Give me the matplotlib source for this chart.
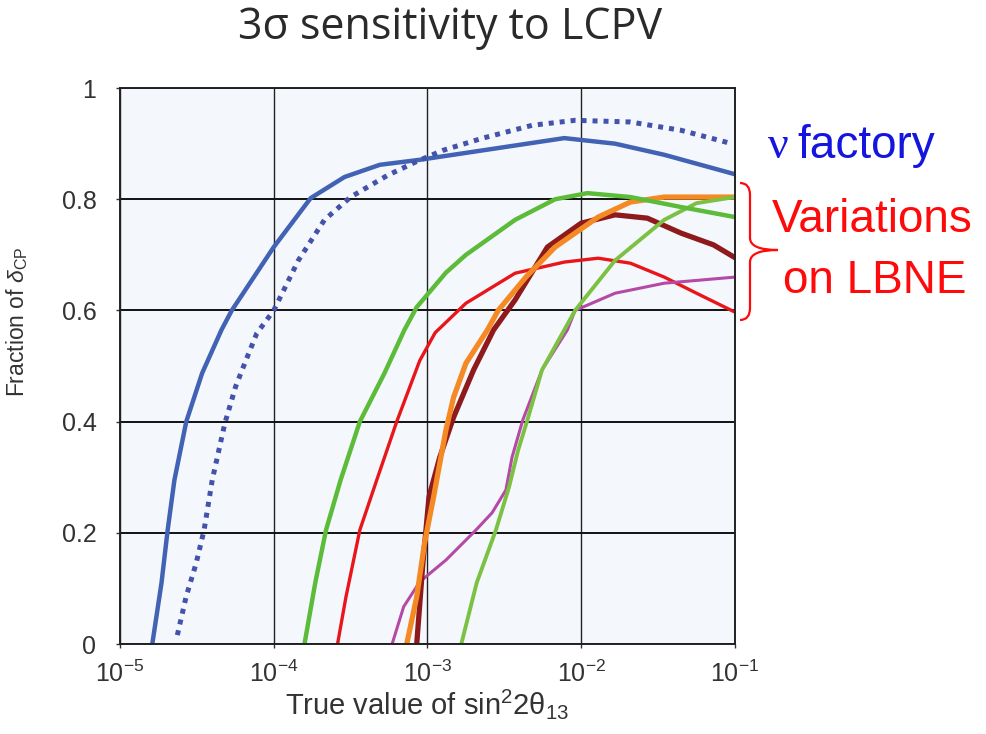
import numpy as np
import matplotlib
matplotlib.use("Agg")
import matplotlib.pyplot as plt
from matplotlib.path import Path
from matplotlib.patches import PathPatch

plt.rcParams['font.family'] = ['Liberation Sans', 'DejaVu Sans']
plt.rcParams['mathtext.fontset'] = 'custom'
plt.rcParams['mathtext.rm'] = 'Liberation Sans'
plt.rcParams['mathtext.it'] = 'Liberation Sans:italic'

# curves: x as log10(sin^2 2theta13), y = fraction of delta_CP
nufact_logx = [-4.79, -4.73, -4.69, -4.646, -4.569, -4.466, -4.34, -4.273, -4.0,
               -3.76, -3.54, -3.31, -3.05, -2.64, -2.11, -1.78, -1.46, -1.0]
nufact_y = [0, 0.11, 0.205, 0.295, 0.40, 0.487, 0.565, 0.60, 0.714,
            0.802, 0.84, 0.862, 0.871, 0.888, 0.91, 0.90, 0.88, 0.845]

nufact2_logx = [-4.627, -4.57, -4.505, -4.453, -4.40, -4.318, -4.248, -4.18, -4.11,
                -4.0, -3.84, -3.67, -3.50, -3.26, -3.07, -2.90, -2.64, -2.32,
                -2.04, -1.68, -1.35, -1.02]
nufact2_y = [0.016, 0.085, 0.145, 0.205, 0.295, 0.397, 0.463, 0.511, 0.559,
             0.60, 0.69, 0.763, 0.804, 0.843, 0.868, 0.888, 0.91, 0.933,
             0.942, 0.939, 0.924, 0.90]

green1_logx = [-3.80, -3.73, -3.66, -3.565, -3.44, -3.28, -3.15, -3.07, -2.88,
               -2.75, -2.43, -2.17, -1.96, -1.68, -1.35, -1.0]
green1_y = [0, 0.11, 0.205, 0.295, 0.40, 0.487, 0.565, 0.606, 0.668,
            0.70, 0.763, 0.80, 0.811, 0.804, 0.786, 0.768]

red_logx = [-3.585, -3.53, -3.44, -3.33, -3.20, -3.05, -2.95, -2.75, -2.43,
            -2.11, -1.89, -1.68, -1.46, -1.25, -1.0]
red_y = [0, 0.085, 0.205, 0.295, 0.40, 0.51, 0.56, 0.613, 0.667,
         0.687, 0.694, 0.685, 0.66, 0.631, 0.597]

orange_logx = [-3.135, -3.07, -3.02, -2.96, -2.88, -2.83, -2.75, -2.61, -2.54,
               -2.36, -2.17, -1.89, -1.68, -1.46, -1.0]
orange_y = [0, 0.085, 0.18, 0.265, 0.385, 0.444, 0.505, 0.565, 0.60,
            0.66, 0.714, 0.768, 0.795, 0.804, 0.804]

brown_logx = [-3.07, -3.03, -2.99, -2.92, -2.83, -2.70, -2.57, -2.43, -2.22,
              -2.0, -1.78, -1.57, -1.35, -1.14, -1.0]
brown_y = [0, 0.145, 0.265, 0.336, 0.408, 0.493, 0.565, 0.619, 0.714,
           0.757, 0.772, 0.766, 0.739, 0.718, 0.695]

green2_logx = [-2.78, -2.68, -2.555, -2.47, -2.41, -2.35, -2.255, -2.11, -2.04,
               -1.78, -1.46, -1.25, -1.0]
green2_y = [0, 0.11, 0.205, 0.282, 0.349, 0.403, 0.493, 0.565, 0.60,
            0.69, 0.763, 0.793, 0.804]

magenta_logx = [-3.23, -3.155, -3.05, -2.88, -2.685, -2.58, -2.49, -2.45, -2.38,
                -2.255, -2.09, -2.04, -1.78, -1.46, -1.0]
magenta_y = [0, 0.067, 0.112, 0.151, 0.205, 0.236, 0.277, 0.336, 0.403,
             0.493, 0.565, 0.60, 0.631, 0.649, 0.66]

yticks = [0, 0.2, 0.4, 0.6, 0.8, 1]
ytick_labels = ['0', '0.2', '0.4', '0.6', '0.8', '1']

fig = plt.figure(figsize=(9.86, 7.34), dpi=100)
ax = fig.add_axes([0.1217, 0.1226, 0.6237, 0.7574])
ax.set_facecolor('#f4f8fd')

def to_x(logx):
    return 10 ** np.array(logx)

ax.plot(to_x(nufact_logx), nufact_y, color='#4262b3', lw=3.2, solid_capstyle='butt')
ax.plot(to_x(nufact2_logx), nufact2_y, color='#4452aa', lw=3.6,
        linestyle=(0, (1.0, 1.2)), dash_capstyle='butt')
ax.plot(to_x(red_logx), red_y, color='#e8161b', lw=2.4)
ax.plot(to_x(magenta_logx), magenta_y, color='#b44aa6', lw=2.2)
ax.plot(to_x(brown_logx), brown_y, color='#8e1a1c', lw=3.8)
ax.plot(to_x(orange_logx), orange_y, color='#f58a24', lw=3.8)
ax.plot(to_x(green2_logx), green2_y, color='#7cc142', lw=2.8)
ax.plot(to_x(green1_logx), green1_y, color='#5dbb3a', lw=3.2)

ax.set_xscale('log')
ax.set_xlim(1e-5, 1e-1)
ax.set_ylim(0, 1)
ax.set_yticks(yticks)
ax.set_yticklabels(ytick_labels)
ax.set_xticks([1e-5, 1e-4, 1e-3, 1e-2, 1e-1])
ax.minorticks_off()

ax.grid(which='major', axis='x', color='#222222', lw=1.0)
ax.grid(which='major', axis='y', color='#111111', lw=1.4)
ax.set_axisbelow(True)
for s in ax.spines.values():
    s.set_color('#222222')
    s.set_linewidth(1.4)

ax.tick_params(axis='both', labelsize=18, colors='#333333', length=3, width=1, pad=9)
ax.tick_params(axis='y', pad=14)

ax.set_xlabel('True value of sin$^2$2θ$_{13}$', fontsize=21, color='#333333', labelpad=0)
ax.set_ylabel('Fraction of $\\delta_{\\rm CP}$', fontsize=16.5, color='#333333')
ax.yaxis.set_label_coords(-0.146, 0.58)

fig.text(0.456, 0.962, '3σ sensitivity to LCPV', fontsize=31, color='#2a2a2a',
         family=['Open Sans', 'DejaVu Sans'], ha='center', va='center')

fig.text(768 / 986, 1 - 158 / 734, 'ν', fontsize=33, color='#1515e0',
         family=['Liberation Serif', 'DejaVu Serif'], ha='left', va='baseline')
fig.text(797 / 986, 1 - 158 / 734, 'factory', fontsize=33, color='#1515e0',
         ha='left', va='baseline')
fig.text(772 / 986, 1 - 232 / 734, 'Variations', fontsize=33, color='#ff0a0a',
         ha='left', va='baseline')
fig.text(783 / 986, 1 - 293 / 734, 'on LBNE', fontsize=33, color='#ff0a0a',
         ha='left', va='baseline')

# curly brace grouping the LBNE variations
W, H = 986.0, 734.0
def fp(x, y):
    return (x / W, 1 - y / H)
verts = [fp(740, 183), fp(750, 183), fp(750, 195), fp(750, 238),
         fp(750, 250), fp(778, 250),
         fp(750, 250), fp(750, 262), fp(750, 308),
         fp(750, 320), fp(740, 320)]
codes = [Path.MOVETO, Path.CURVE3, Path.CURVE3, Path.LINETO,
         Path.CURVE3, Path.CURVE3,
         Path.CURVE3, Path.CURVE3, Path.LINETO,
         Path.CURVE3, Path.CURVE3]
brace = PathPatch(Path(verts, codes), transform=fig.transFigure, fill=False,
                  edgecolor='#ff0a0a', lw=1.6)
fig.patches.append(brace)

fig.savefig('out.png', dpi=100)
